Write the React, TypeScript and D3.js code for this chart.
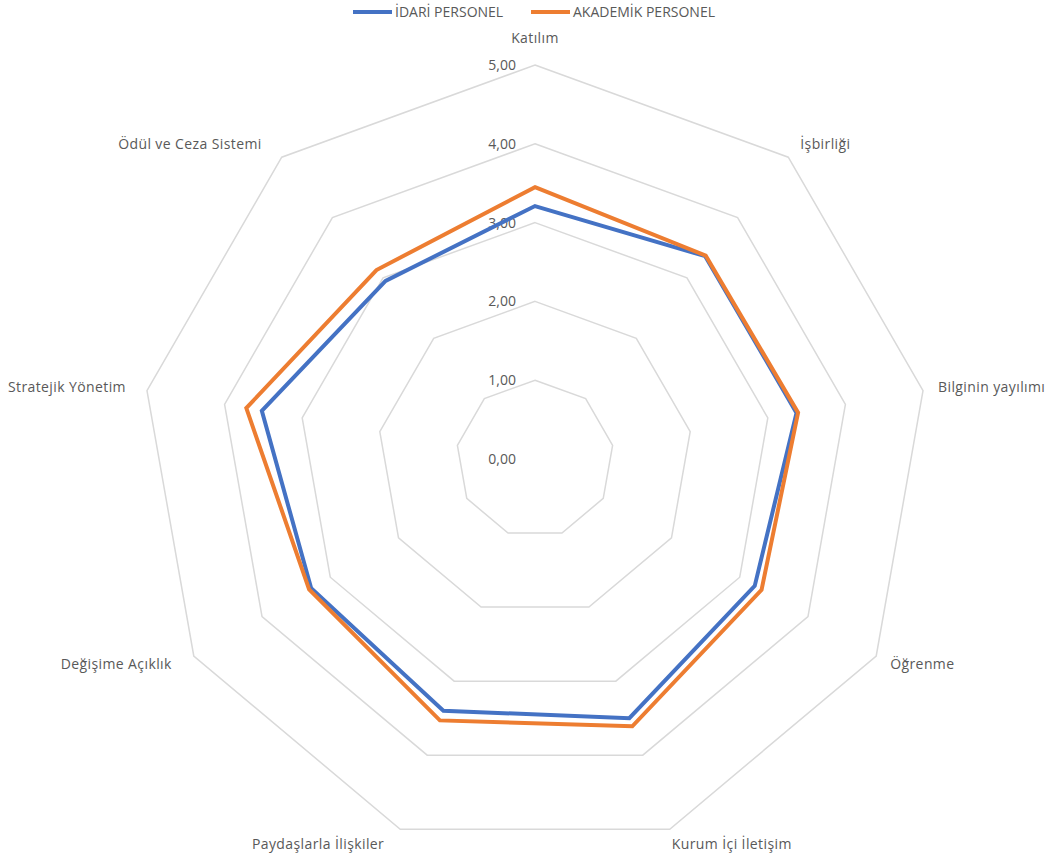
import React from "react";
import * as d3 from "d3";

const categories = [
  "Katılım",
  "İşbirliği",
  "Bilginin yayılımı",
  "Öğrenme",
  "Kurum İçi İletişim",
  "Paydaşlarla İlişkiler",
  "Değişime Açıklık",
  "Stratejik Yönetim",
  "Ödül ve Ceza Sistemi",
];
const idari = [3.21, 3.36, 3.37, 3.22, 3.5, 3.4, 3.28, 3.52, 2.95];
const akademik = [3.45, 3.37, 3.39, 3.32, 3.61, 3.53, 3.31, 3.72, 3.13];
const ticks = [0, 1, 2, 3, 4, 5];
const tickLabels = ["0,00", "1,00", "2,00", "3,00", "4,00", "5,00"];
const seriesNames = ["İDARİ PERSONEL", "AKADEMİK PERSONEL"];
const colors = ["#4472C4", "#ED7D31"];

const W = 1047;
const H = 860;
const cx = 535;
const cy = 459;
const font = "'Open Sans', sans-serif";

export default function App() {
  const r = d3.scaleLinear().domain([0, 5]).range([0, 394]);
  const n = categories.length;
  const angle = d3
    .scaleLinear()
    .domain([0, n])
    .range([0, 2 * Math.PI]);
  const pt = (i: number, v: number): [number, number] => {
    const a = angle(i);
    return [cx + r(v) * Math.sin(a), cy - r(v) * Math.cos(a)];
  };
  const line = d3
    .line<[number, number]>()
    .x((d) => d[0])
    .y((d) => d[1])
    .curve(d3.curveLinearClosed);

  const grid = ticks
    .filter((t) => t > 0)
    .map((t) => line(categories.map((_, i) => pt(i, t))) as string);

  const labelPos = (i: number) => {
    const a = angle(i);
    const s = Math.sin(a);
    const c = Math.cos(a);
    const [vx, vy] = pt(i, 5);
    let anchor = "middle";
    let x = vx;
    let y = vy;
    if (Math.abs(s) < 0.1) {
      y = vy - 27;
    } else {
      anchor = s > 0 ? "start" : "end";
      if (c > 0.5) {
        x = vx + (s > 0 ? 12 : -20);
        y = vy - 13;
      } else if (c > 0) {
        x = vx + (s > 0 ? 15 : -21);
        y = vy - 3;
      } else if (c > -0.8) {
        x = vx + (s > 0 ? 14 : -22);
        y = vy + 8;
      } else {
        x = vx + (s > 0 ? 2 : -16);
        y = vy + 15;
      }
    }
    return { x, y, anchor };
  };

  return (
    <svg width={W} height={H} style={{ display: "block", position: "absolute", left: 0, top: 0 }}>
      <rect width={W} height={H} fill="#fff" />
      {grid.map((d, i) => (
        <path key={i} d={d} fill="none" stroke="#d9d9d9" strokeWidth={1.5} />
      ))}
      {ticks.map((t, i) => (
        <text
          key={t}
          x={cx - 19}
          y={cy - r(t)}
          dy="0.35em"
          textAnchor="end"
          fontFamily={font}
          fontSize={14}
          fill="#595959"
        >
          {tickLabels[i]}
        </text>
      ))}
      {[idari, akademik].map((vals, si) => (
        <path
          key={si}
          d={line(vals.map((v, i) => pt(i, v))) as string}
          fill="none"
          stroke={colors[si]}
          strokeWidth={4}
          strokeLinejoin="miter"
        />
      ))}
      {categories.map((c, i) => {
        const p = labelPos(i);
        return (
          <text
            key={c}
            x={p.x}
            y={p.y}
            dy="0.35em"
            textAnchor={p.anchor as any}
            fontFamily={font}
            fontSize={14}
            letterSpacing={0.4}
            fill="#595959"
          >
            {c}
          </text>
        );
      })}
      <g>
        <line x1={353} x2={392} y1={12} y2={12} stroke={colors[0]} strokeWidth={4} />
        <text x={395} y={12} dy="0.35em" fontFamily={font} fontSize={14} fill="#595959">
          {seriesNames[0]}
        </text>
        <line x1={531} x2={570} y1={12} y2={12} stroke={colors[1]} strokeWidth={4} />
        <text x={573} y={12} dy="0.35em" fontFamily={font} fontSize={14} fill="#595959">
          {seriesNames[1]}
        </text>
      </g>
    </svg>
  );
}
